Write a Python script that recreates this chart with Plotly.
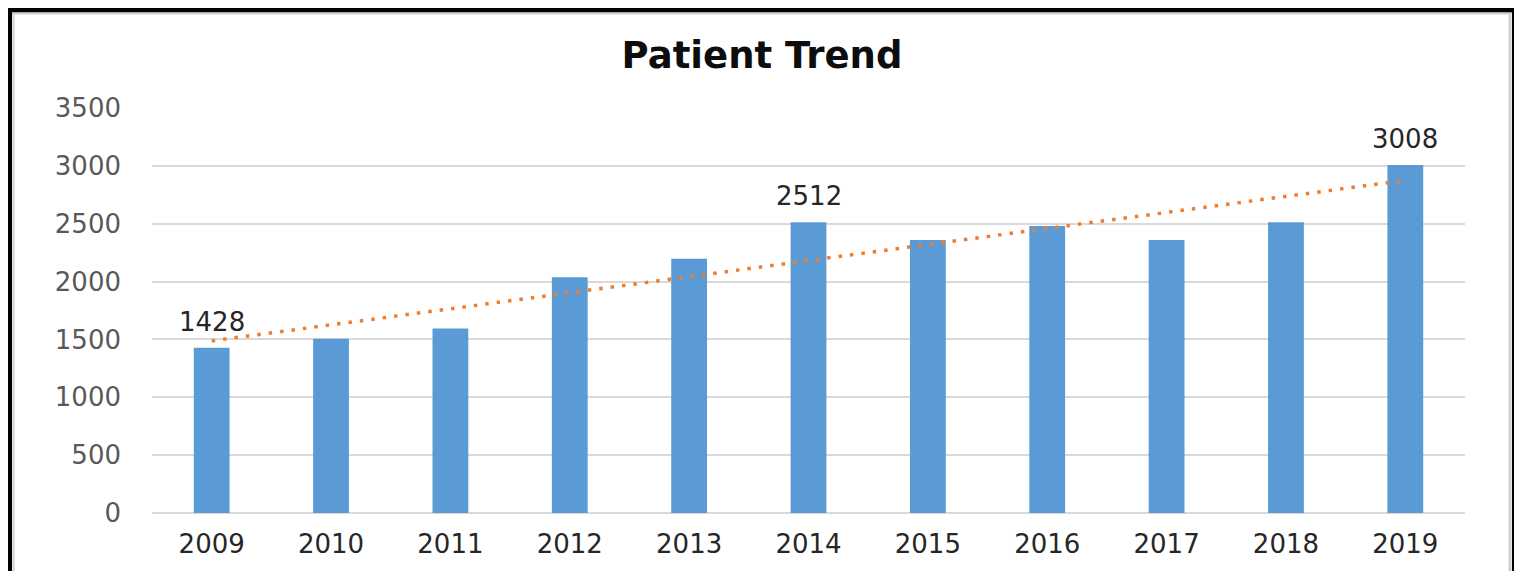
import numpy as np
import plotly.graph_objects as go

years = ["2009", "2010", "2011", "2012", "2013", "2014", "2015", "2016", "2017", "2018", "2019"]
patients = [1428, 1506, 1595, 2037, 2198, 2512, 2359, 2480, 2360, 2512, 3008]
label_years = ["2009", "2014", "2019"]
y_ticks = [0, 500, 1000, 1500, 2000, 2500, 3000, 3500]

OFF = 8  # page body margin
W, H = 1522 - OFF, 571 - OFF
L, R, T, B = 152 - OFF, 57, 108 - OFF, 58
pw, ph = W - L - R, H - T - B

def px(x):
    return (x - OFF - L) / pw

def py(y):
    return (H - B - (y - OFF)) / ph

# linear trendline (Excel-like), from the data
xi = np.arange(len(patients))
slope, intercept = np.polyfit(xi, patients, 1)
trend = slope * xi + intercept

fig = go.Figure()
fig.add_trace(go.Bar(
    x=years, y=patients, width=0.3,
    marker=dict(color="#5B9BD5", line=dict(width=0)),
    showlegend=False,
))
fig.add_trace(go.Scatter(
    x=years, y=trend, mode="lines",
    line=dict(color="#ED7D31", width=3.5, dash="3.5px,8px"),
    showlegend=False, hoverinfo="skip",
))

for i, (yr, v) in enumerate(zip(years, patients)):
    if yr in label_years:
        fig.add_annotation(x=i, y=v, text=str(v), showarrow=False, yanchor="bottom",
                           yshift=9, font=dict(family="DejaVu Sans", size=26, color="#262626"))

shapes = [
    dict(type="line", xref="paper", yref="paper", x0=px(9.5), x1=px(9.5), y0=py(8), y1=py(600),
         line=dict(color="black", width=5)),
    dict(type="line", xref="paper", yref="paper", x0=px(7), x1=px(1517), y0=py(10), y1=py(10),
         line=dict(color="black", width=5)),
    dict(type="line", xref="paper", yref="paper", x0=px(1514.5), x1=px(1514.5), y0=py(8), y1=py(600),
         line=dict(color="black", width=5)),
    dict(type="line", xref="paper", yref="paper", x0=px(13.5), x1=px(13.5), y0=py(13), y1=py(600),
         line=dict(color="#d0d0d0", width=2)),
    dict(type="line", xref="paper", yref="paper", x0=px(12), x1=px(1511), y0=py(13.5), y1=py(13.5),
         line=dict(color="#d0d0d0", width=2)),
    dict(type="line", xref="paper", yref="paper", x0=px(1510), x1=px(1510), y0=py(13), y1=py(600),
         line=dict(color="#d0d0d0", width=3)),
]

fig.update_layout(
    width=W, height=H,
    margin=dict(l=L, r=R, t=T, b=B, pad=0),
    paper_bgcolor="white", plot_bgcolor="white",
    title=dict(text="<b>Patient Trend</b>", x=(762 - OFF) / W, xref="container", xanchor="center",
               y=1 - (55 - OFF) / H, yref="container", yanchor="middle",
               font=dict(family="DejaVu Sans", size=37, color="#0d0d0d")),
    bargap=0.7,
    shapes=shapes,
    xaxis=dict(
        type="category", categoryorder="array", categoryarray=years,
        showgrid=False, showline=False, zeroline=False,
        ticks="", ticklabelstandoff=13,
        tickfont=dict(family="DejaVu Sans", size=26, color="#262626"),
    ),
    yaxis=dict(
        range=[0, 3500], tickvals=y_ticks, showgrid=True, gridcolor="#d9d9d9", gridwidth=2,
        zeroline=True, zerolinecolor="#d9d9d9", zerolinewidth=2, showline=False,
        ticks="", ticklabelstandoff=30,
        tickfont=dict(family="DejaVu Sans", size=26, color="#595959"),
    ),
)

fig.write_html("out.html")
